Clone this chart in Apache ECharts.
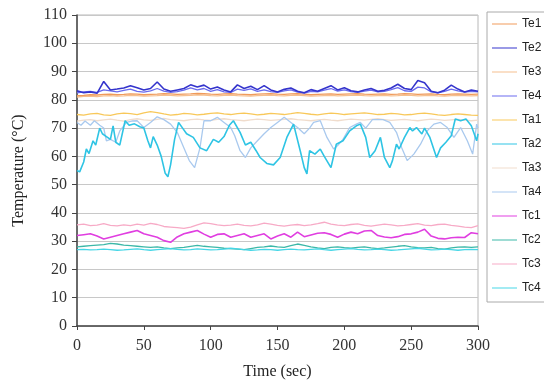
<!DOCTYPE html>
<html><head><meta charset="utf-8">
<script src="https://cdn.jsdelivr.net/npm/echarts@6/dist/echarts.min.js"></script>
<style>html,body{margin:0;padding:0;background:#fff}#c{width:544px;height:391px}</style>
</head><body><div id="c"></div>
<script>
const seriesNames = ['Te1','Te2','Te3','Te4','Ta1','Ta2','Ta3','Ta4','Tc1','Tc2','Tc3','Tc4'];
const xTicks = [0,50,100,150,200,250,300];
const yTicks = [0,10,20,30,40,50,60,70,80,90,100,110];
const time5 = [0,5,10,15,20,25,30,35,40,45,50,55,60,65,70,75,80,85,90,95,100,105,110,115,120,125,130,135,140,145,150,155,160,165,170,175,180,185,190,195,200,205,210,215,220,225,230,235,240,245,250,255,260,265,270,275,280,285,290,295,300];
const te1 = [81.5,81.6,81.8,81.7,81.9,82.0,81.8,81.9,82.1,82.0,81.8,81.9,82.0,82.2,82.1,81.9,82.0,82.1,82.3,82.2,82.0,81.9,82.1,82.2,82.0,81.9,81.8,82.0,82.1,82.2,82.0,81.9,82.1,82.2,82.0,81.8,81.9,82.0,82.1,81.9,82.0,82.1,82.2,82.0,81.9,82.0,82.1,81.9,82.0,82.2,82.1,81.9,82.0,82.1,81.9,81.8,82.0,82.1,82.0,81.9,82.0];
const te2 = [83.2,82.5,82.8,82.3,86.5,83.5,83.8,84.2,85.0,84.3,83.5,84.0,86.3,83.8,83.0,83.5,84.0,85.3,84.5,85.2,83.8,84.5,83.5,82.8,85.3,84.0,84.8,83.6,85.0,83.5,82.8,83.7,84.2,83.0,82.5,83.6,83.0,84.0,85.0,83.5,84.3,83.2,82.8,83.5,84.0,83.0,83.4,84.2,85.5,84.0,83.6,86.8,86.0,83.0,82.5,83.4,85.2,83.8,82.8,83.5,83.0];
const te3 = [81.0,81.2,81.3,81.1,81.4,81.5,81.3,81.4,81.6,81.5,81.3,81.4,81.5,81.7,81.6,81.4,81.5,81.6,81.8,81.7,81.5,81.4,81.6,81.7,81.5,81.4,81.3,81.5,81.6,81.7,81.5,81.4,81.6,81.7,81.5,81.3,81.4,81.5,81.6,81.4,81.5,81.6,81.7,81.5,81.4,81.5,81.6,81.4,81.5,81.7,81.6,81.4,81.5,81.6,81.4,81.3,81.5,81.6,81.5,81.4,81.5];
const te4 = [82.5,82.8,83.0,82.6,83.5,83.2,82.8,83.3,83.8,83.0,82.7,83.2,84.0,83.1,82.6,82.9,83.4,84.2,83.5,84.0,83.0,83.6,82.8,82.6,83.8,83.3,83.9,83.0,83.5,82.9,82.6,83.2,83.5,82.7,82.4,83.0,82.8,83.4,84.0,83.1,83.5,82.9,82.6,83.1,83.4,82.8,83.0,83.6,84.3,83.2,83.0,84.5,84.2,82.8,82.5,83.0,83.8,83.2,82.7,83.0,82.8];
const ta1 = [74.8,74.6,75.0,75.2,74.7,74.5,75.0,75.3,75.1,74.8,75.4,75.8,75.5,75.0,74.6,74.8,75.2,75.0,74.7,74.9,75.2,75.4,75.0,74.8,75.1,75.3,75.0,74.7,74.9,75.2,75.0,74.8,75.1,75.5,75.2,74.9,74.7,75.0,75.3,75.1,74.8,75.0,75.2,75.4,75.1,74.8,74.9,75.2,75.0,74.7,74.8,75.1,75.3,75.0,74.7,74.5,74.8,75.0,74.8,74.6,74.5];
const ta2Time = [0,2,5,7,9,12,14,17,19,22,25,27,29,32,36,39,43,47,50,53,55,57,60,63,66,68,70,73,76,79,82,87,92,97,102,106,110,114,117,122,126,130,134,137,142,147,152,157,162,167,170,172,174,178,182,185,190,194,199,204,209,212,216,219,223,227,230,234,236,239,241,245,249,251,254,258,260,264,269,272,276,280,283,287,291,295,299,300];
const ta2 = [55,54.5,58,62.6,61,65.5,64,70,68,67,66,70.8,65,64,72.6,71,71.5,70.5,70,65.5,63,67,64,60,54,52.8,57,66,72,70,68,66.7,63,62,66,65,67,71,72.6,68.5,64,65,62,59.6,57.5,57,59.6,66.7,71.4,62,56,53.8,62,60.8,62.6,60,56,64.3,65.5,69,70.8,71.4,66.7,59.6,62,66.7,59.6,56,58.5,64.3,62.6,66.7,70.2,69,70.2,67.9,70,66.7,59.6,63,65,67.3,73.2,72.6,73.2,70.8,65.5,68];
const ta3 = [72.5,72.8,73.0,72.6,72.9,73.2,72.8,72.5,73.0,73.3,72.9,72.7,73.1,73.4,73.0,72.8,72.6,73.0,73.2,72.9,72.7,73.1,73.3,73.0,72.8,72.6,72.9,73.2,73.0,72.7,72.9,73.1,73.3,73.0,72.8,72.6,72.9,73.1,72.8,72.6,72.9,73.2,73.0,72.8,73.1,73.3,73.0,72.7,72.9,73.1,72.8,72.6,72.9,73.2,73.0,72.7,72.9,73.1,72.8,72.6,72.8];
const ta4Time = [0,3,6,10,13,17,20,22,25,29,32,37,41,45,50,55,60,65,70,75,80,84,88,92,95,100,105,110,115,118,122,126,130,135,140,145,150,155,160,165,170,174,177,182,187,192,195,199,204,209,212,216,221,229,234,239,243,247,252,257,262,267,272,277,282,287,292,296,299,300];
const ta4 = [72,71,72.5,71,72.6,71,70,65.5,66,65,69,72,72.5,72.6,70.2,72,74,73,71.4,68.5,63,58.5,56,63,72.6,72.6,73.8,72,70.2,67.3,62,59.6,63,65.5,68,70.2,72,73.8,72,70.2,68,70,72,72.6,66.7,62.6,63.8,66,70.2,71.4,72,70,73,73,72,68.5,63,58.5,60.8,64.3,69,71.4,72,70.2,66.7,70.2,65.5,60.8,71.4,70];
const tc1 = [32,32.3,32.6,31.8,30.8,31.4,32.0,32.6,33.2,33.8,32.6,32.0,31.4,30.2,29.6,31.5,32.6,33.2,33.8,32.5,31.4,32.4,32.6,31.4,32.0,32.6,31.4,32.0,32.6,30.8,31.8,32.6,31.4,33.2,31.6,32.2,32.8,33.0,32.4,31.4,32.5,33.2,32.6,33.6,33.8,32.0,31.5,31.2,31.6,32.4,32.6,33.2,34.2,31.8,31.0,30.8,31.2,31.4,31.3,33.0,32.6];
const tc2 = [28.0,28.2,28.4,28.6,28.8,29.2,29.0,28.6,28.4,28.2,28.0,27.8,28.0,27.6,27.4,27.6,27.8,28.2,28.5,28.2,28.0,27.8,27.5,27.4,27.2,27.0,27.4,27.8,28.0,28.3,28.0,27.8,28.4,29.0,28.5,28.0,27.6,27.4,27.8,28.0,27.7,27.5,27.8,28.0,27.6,27.4,27.6,27.9,28.2,28.4,28.0,27.7,27.6,27.8,27.4,27.2,27.6,27.9,28.0,27.8,28.0];
const tc3 = [35.8,36.0,35.5,35.7,36.2,35.6,35.4,35.8,35.5,36.0,35.7,36.3,35.9,35.2,35.0,34.8,34.5,35.0,35.8,36.5,36.2,35.8,35.5,35.7,36.0,35.6,35.4,35.8,36.4,36.0,35.6,35.3,35.7,35.9,35.5,35.8,36.2,36.7,36.0,35.7,35.5,35.9,36.1,35.6,35.3,35.7,36.0,35.8,35.4,35.6,35.9,36.2,35.7,35.5,35.9,36.0,35.6,35.3,35.0,34.8,35.5];
const tc4 = [27.0,27.1,26.9,27.0,27.2,27.0,26.8,26.9,27.1,27.3,27.0,26.8,27.0,27.2,27.4,27.1,26.9,27.0,27.3,27.1,26.9,27.0,27.2,27.5,27.3,27.0,26.8,26.9,27.1,27.0,26.8,27.0,27.2,27.0,26.9,27.1,27.3,27.0,26.8,27.0,27.2,27.4,27.1,26.9,27.0,27.2,27.0,26.8,26.9,27.1,27.3,27.5,27.2,26.9,27.0,27.2,27.0,26.8,27.0,27.1,27.0];

const colors = ['#f09a5a','#3434cc','#f5bf8e','#6a6aee','#f8c85a','#2ec4e4','#f0dccc','#a9c9ee','#e03ee0','#3cb8a8','#f7aac6','#46d6e6'];
const pairs = (xs, ys) => xs.map((x, i) => [x, ys[i]]);
const allData = [
  pairs(time5, te1), pairs(time5, te2), pairs(time5, te3), pairs(time5, te4),
  pairs(time5, ta1), pairs(ta2Time, ta2), pairs(time5, ta3), pairs(ta4Time, ta4),
  pairs(time5, tc1), pairs(time5, tc2), pairs(time5, tc3), pairs(time5, tc4)
];
const zOrder = [3,5,2,4,3,4,2,3,3,3,3,3];

const chart = echarts.init(document.getElementById('c'), null, {renderer: 'canvas'});
const serif = 'Liberation Serif';
chart.setOption({
  animation: false,
  backgroundColor: '#fff',
  color: colors,
  grid: {left: 77, top: 15, width: 401, height: 311, show: true, borderColor: '#b8b8b8', borderWidth: 1, backgroundColor: 'transparent'},
  legend: {
    orient: 'vertical', left: 487, top: 12,
    data: seriesNames,
    itemWidth: 25, itemHeight: 14, itemGap: 12,
    padding: [6, 40, 8, 5],
    borderColor: '#aaa', borderWidth: 1,
    textStyle: {fontFamily: 'Liberation Sans', fontSize: 12, color: '#222'},
    icon: 'path://M0,7 L25,7 L25,8 L0,8 Z'
  },
  xAxis: {
    type: 'value', min: 0, max: 300, interval: 50,
    name: 'Time (sec)', nameLocation: 'middle', nameGap: 38,
    nameTextStyle: {fontFamily: serif, fontSize: 16, color: '#222'},
    axisLine: {show: true, lineStyle: {color: '#444', width: 1.5}},
    axisTick: {show: true, length: 4, lineStyle: {color: '#444'}},
    axisLabel: {fontFamily: serif, fontSize: 16, color: '#333', margin: 12,
      formatter: v => xTicks.includes(v) ? String(v) : ''},
    splitLine: {show: false}
  },
  yAxis: {
    type: 'value', min: 0, max: 110, interval: 10,
    name: 'Temperature (\u00B0C)', nameLocation: 'middle', nameGap: 50,
    nameTextStyle: {fontFamily: serif, fontSize: 16, color: '#222'},
    axisLine: {show: true, lineStyle: {color: '#444', width: 1.5}},
    axisTick: {show: true, length: 5, lineStyle: {color: '#444'}},
    axisLabel: {fontFamily: serif, fontSize: 16, color: '#333', margin: 10,
      formatter: v => yTicks.includes(v) ? String(v) : ''},
    splitLine: {show: true, lineStyle: {color: '#c8c8c8', width: 1}}
  },
  series: seriesNames.map((n, i) => ({
    name: n, type: 'line', data: allData[i], symbol: 'none', smooth: false,
    z: zOrder[i],
    lineStyle: {width: (i === 1 || i === 5 || i === 8) ? 1.6 : 1.3, color: colors[i]},
    itemStyle: {color: colors[i]}
  }))
});
</script></body></html>
